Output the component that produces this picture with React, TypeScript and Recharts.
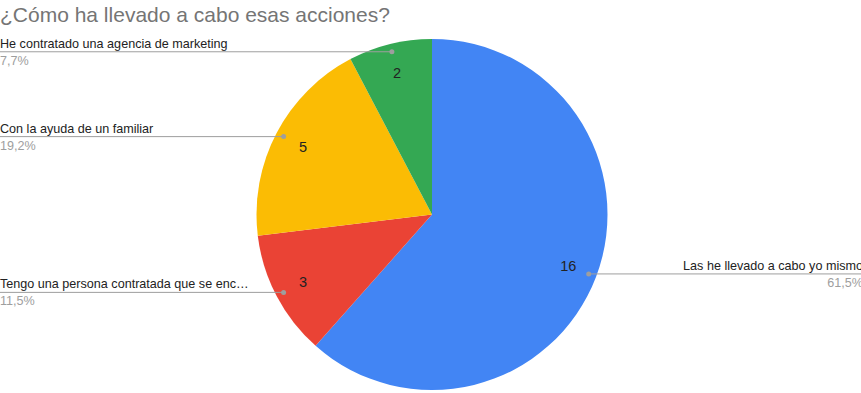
import React from "react";
import { PieChart, Pie, Cell } from "recharts";

const categories = [
  "Las he llevado a cabo yo mismo",
  "Tengo una persona contratada que se enc…",
  "Con la ayuda de un familiar",
  "He contratado una agencia de marketing",
];
const values = [16, 3, 5, 2];
const percentLabels = ["61,5%", "11,5%", "19,2%", "7,7%"];
const colors = ["#4285F4", "#EA4335", "#FBBC04", "#34A853"];

const data = categories.map((name, i) => ({ name, value: values[i], pct: percentLabels[i] }));

const RAD = Math.PI / 180;
const W = 861;
const H = 393;
const FONT = "Arial, 'Liberation Sans', sans-serif";

const renderLabel = (props: any) => {
  const { cx, cy, midAngle, outerRadius, index } = props;
  const cos = Math.cos(-midAngle * RAD);
  const sin = Math.sin(-midAngle * RAD);
  const nx = cx + outerRadius * 0.83 * cos;
  const ny = cy + outerRadius * 0.83 * sin;
  const dx = cx + outerRadius * 0.955 * cos;
  const dy = cy + outerRadius * 0.955 * sin;
  const right = cos > 0;
  const d = data[index];
  return (
    <g key={`lbl-${index}`}>
      <text x={nx} y={ny} textAnchor="middle" dominantBaseline="central" fontSize={14.5} fill="#222" fontFamily={FONT}>
        {d.value}
      </text>
      <line x1={right ? dx : 0} y1={dy} x2={right ? W : dx} y2={dy} stroke="#9e9e9e" strokeWidth={1} />
      <circle cx={dx} cy={dy} r={2.5} fill="#9e9e9e" />
      <text x={right ? 863 : 0} y={dy - 8} textAnchor={right ? "end" : "start"} dominantBaseline="central" fontSize={12.6} fill="#222" fontFamily={FONT}>
        {d.name}
      </text>
      <text x={right ? 863 : 0} y={dy + 9} textAnchor={right ? "end" : "start"} dominantBaseline="central" fontSize={12.6} fill="#9e9e9e" fontFamily={FONT}>
        {d.pct}
      </text>
    </g>
  );
};

export default function App() {
  return (
    <div style={{ position: "absolute", left: 0, top: 0, width: W, height: H, background: "#fff", overflow: "hidden" }}>
      <style>{`body{margin:0}`}</style>
      <div style={{ position: "absolute", left: 0, top: 2, fontFamily: FONT, fontSize: 21, color: "#757575", whiteSpace: "nowrap", lineHeight: "26px" }}>
        ¿Cómo ha llevado a cabo esas acciones?
      </div>
      <PieChart width={W} height={H} margin={{ top: 0, right: 0, bottom: 0, left: 0 }}>
        <Pie
          data={data}
          dataKey="value"
          nameKey="name"
          cx={432}
          cy={214.5}
          outerRadius={175.5}
          startAngle={90}
          endAngle={-270}
          stroke="none"
          label={renderLabel}
          labelLine={false}
          isAnimationActive={false}
        >
          {data.map((_, i) => (
            <Cell key={i} fill={colors[i]} />
          ))}
        </Pie>
      </PieChart>
    </div>
  );
}
